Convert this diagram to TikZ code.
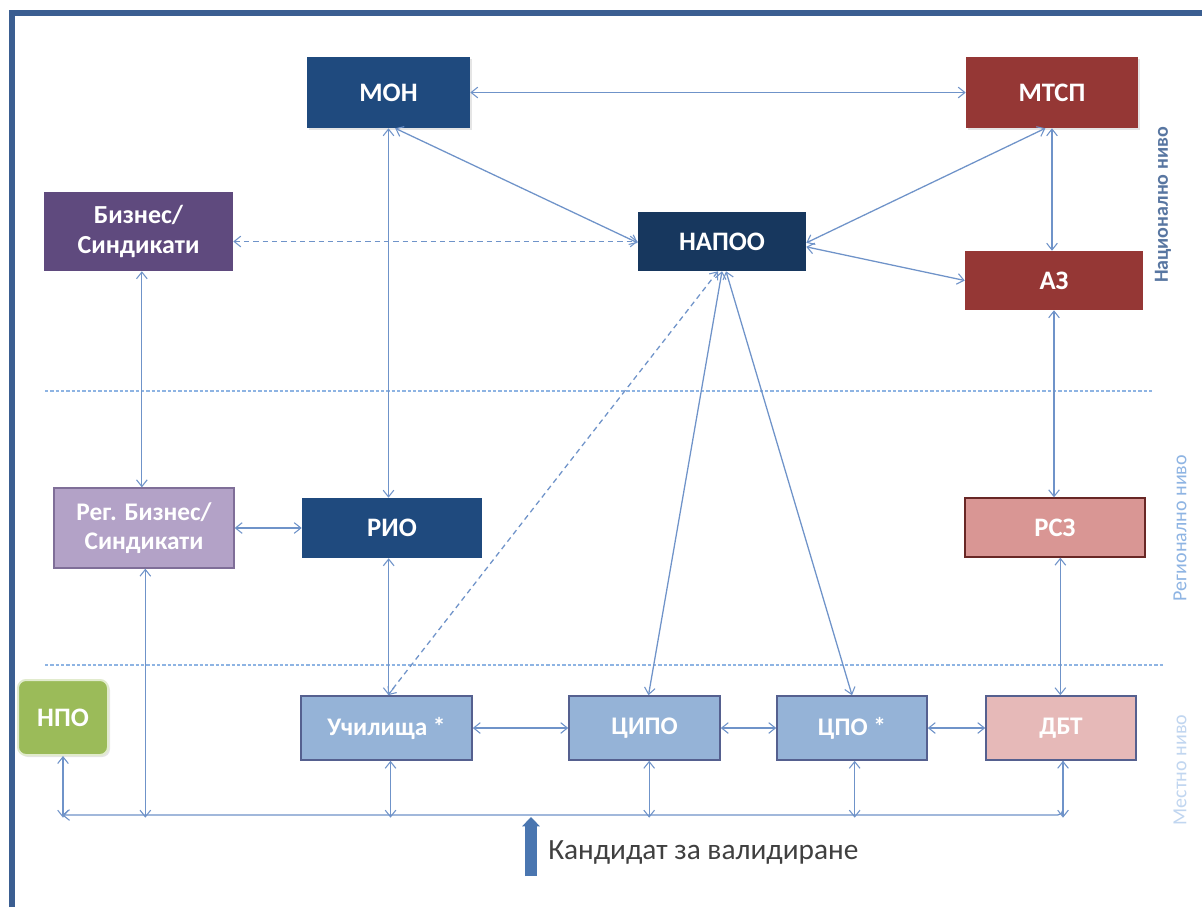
\documentclass[tikz,border=0pt]{standalone}
\usepackage{fontspec}
\setmainfont{Carlito}
\usetikzlibrary{arrows.meta,calc,shadows}
\definecolor{framec}{HTML}{3B5E91}
\definecolor{monc}{HTML}{1F4A7E}
\definecolor{napooc}{HTML}{17375E}
\definecolor{redc}{HTML}{953735}
\definecolor{purc}{HTML}{5F4A7E}
\definecolor{lpurc}{HTML}{B3A2C7}
\definecolor{pinkc}{HTML}{D99694}
\definecolor{lpinkc}{HTML}{E6B9B8}
\definecolor{lbluec}{HTML}{95B3D7}
\definecolor{greenc}{HTML}{9BBB59}
\definecolor{arrc}{HTML}{6F93C9}
\definecolor{lvlc}{HTML}{8EB4E3}
\definecolor{bordc}{HTML}{55608F}
\definecolor{candc}{HTML}{4A76B0}
\tikzset{
  >={Straight Barb[length=5pt,width=8pt,line width=0.8pt]},
  box/.style={rectangle, inner sep=0pt, text=white, align=center,
    font=\bfseries\fontsize{20}{22}\selectfont},
  lowbox/.style={box, draw=bordc, line width=1.2pt, font=\bfseries\fontsize{19}{21}\selectfont},
  conn/.style={draw=arrc, line width=0.95pt, <->},
  dconn/.style={conn, dash pattern=on 4pt off 3pt},
  lvl/.style={draw=lvlc, line width=0.8pt, dash pattern=on 2.5pt off 1.5pt},
  sidelbl/.style={rotate=90, font=\fontsize{15}{17}\selectfont},
  shad/.style={drop shadow={opacity=0.2, shadow xshift=1.5pt, shadow yshift=-1.5pt}}
}
\begin{document}
\begin{tikzpicture}[x=0.75pt,y=-0.75pt]
\useasboundingbox (0,0) rectangle (1202,907);
\fill[white] (0,0) rectangle (1202,907);
\draw[framec, line width=3.8pt] (12,907) -- (12,13) -- (1202,13);

% level separators
\draw[lvl] (45,391) -- (1153,391);
\draw[lvl] (45,665) -- (1165,665);

% side labels
\node[sidelbl, text=framec!85!white, font=\bfseries\fontsize{15}{17}\selectfont] (lnat) at (1163,205) {Национално ниво};
\node[sidelbl, text=lvlc] (lreg) at (1180,528) {Регионално ниво};
\node[sidelbl, text=lvlc!55!white] (lloc) at (1180,770) {Местно ниво};

% national
\node[box, shad, fill=monc, minimum width=122.25pt, minimum height=53.25pt] (mon) at (388.5,92.5) {МОН};
\node[box, shad, fill=redc, minimum width=129pt, minimum height=53.25pt] (mtsp) at (1052,92.5) {МТСП};
\node[box, fill=purc, minimum width=141.75pt, minimum height=59.25pt, font=\bfseries\fontsize{19.5}{22}\selectfont] (biz) at (138.5,231.5) {Бизнес/\\Синдикати};
\node[box, fill=napooc, minimum width=126pt, minimum height=44.25pt] (napoo) at (722,241.5) {НАПОО};
\node[box, fill=redc, minimum width=133.5pt, minimum height=44.25pt] (az) at (1054,280.5) {АЗ};

% regional
\node[box, fill=lpurc, draw=purc!80!white, line width=1pt, minimum width=135pt, minimum height=60pt, font=\bfseries\fontsize{19}{22}\selectfont] (reg) at (144,528) {Рег. Бизнес/\\Синдикати};
\node[box, fill=monc, minimum width=135pt, minimum height=45pt] (rio) at (392,528) {РИО};
\node[box, fill=pinkc, draw=redc!70!black, line width=1pt, minimum width=135pt, minimum height=44.25pt] (rsz) at (1055,527.5) {РСЗ};

% local
\node[box, shad, fill=greenc, draw=greenc!30!white, line width=1.5pt, rounded corners=6pt, minimum width=67.5pt, minimum height=56.25pt] (npo) at (63,717.5) {НПО};
\node[lowbox, fill=lbluec, minimum width=128.25pt, minimum height=48pt] (uch) at (386.5,728) {Училища *};
\node[lowbox, fill=lbluec, minimum width=113.25pt, minimum height=48pt] (cipo) at (644.5,728) {ЦИПО};
\node[lowbox, fill=lbluec, minimum width=112.5pt, minimum height=48pt] (cpo) at (852,728) {ЦПО *};
\node[lowbox, fill=lpinkc, minimum width=112.5pt, minimum height=48pt] (dbt) at (1061,728) {ДБТ};

% bus coordinates
\coordinate (busL) at (62,815);
\coordinate (busR) at (1063,815);
\coordinate (candS) at (531,876);
\coordinate (candE) at (531,817);

% national connectors
\draw[conn] (mon.east) -- (mtsp.west);
\draw[conn] (mon.south) -- (mon.south |- rio.north);
\draw[conn] ([xshift=5pt]mon.south) -- ([yshift=-1pt]napoo.west);
\draw[conn] ([xshift=-5pt]mtsp.south) -- ([yshift=-1pt]napoo.east);
\draw[conn] (mtsp.south) -- (mtsp.south |- az.north);
\draw[conn] ([yshift=-4pt]napoo.east) -- (az.west);
\draw[dconn] (napoo.west -| biz.east) -- (napoo.west);
\draw[conn] ([xshift=2.5pt]biz.south) -- ([xshift=2.5pt]biz.south |- reg.north);

% regional connectors
\draw[conn] (reg.east) -- (rio.west);
\draw[conn] ([xshift=-2.5pt]rio.south) -- ([xshift=-2.5pt]rio.south |- uch.north);
\draw[dconn] ([xshift=-3pt]napoo.south) -- ([xshift=1pt]uch.north);
\draw[conn] (napoo.south) -- ([xshift=3pt]cipo.north);
\draw[conn] ([xshift=3pt]napoo.south) -- (cpo.north);
\draw[conn] (az.south) -- (az.south |- rsz.north);
\draw[conn] ([xshift=4pt]rsz.south) -- ([xshift=4pt]rsz.south |- dbt.north);

% local connectors
\draw[conn] (uch.east) -- (cipo.west);
\draw[conn] (cipo.east) -- (cpo.west);
\draw[conn] (cpo.east) -- (dbt.west);

% bus
\draw[draw=arrc, line width=0.95pt, ->, rounded corners=4pt] ([xshift=1.5pt]dbt.south) |- (busL);
\draw[conn] ([xshift=1.5pt]dbt.south) -- ([xshift=1.5pt,yshift=-2pt]dbt.south |- busR);
\draw[conn] (npo.south) -- ([yshift=-2pt]npo.south |- busL);
\draw[conn] ([xshift=1pt]reg.south) -- ([xshift=1pt,yshift=-2pt]reg.south |- busL);
\draw[conn] ([xshift=3pt]uch.south) -- ([xshift=3pt,yshift=-2pt]uch.south |- busL);
\draw[conn] ([xshift=3.5pt]cipo.south) -- ([xshift=3.5pt,yshift=-2pt]cipo.south |- busL);
\draw[conn] ([xshift=2pt]cpo.south) -- ([xshift=2pt,yshift=-2pt]cpo.south |- busL);

% candidate arrow
\draw[draw=candc, line width=8.5pt, -{Triangle[length=7pt,width=13pt]}] (candS) -- (candE);
\node[anchor=west, text=black!75, font=\fontsize{22}{26}\selectfont, inner sep=0pt] (cand) at (548,852) {Кандидат за валидиране};
\end{tikzpicture}
\end{document}
